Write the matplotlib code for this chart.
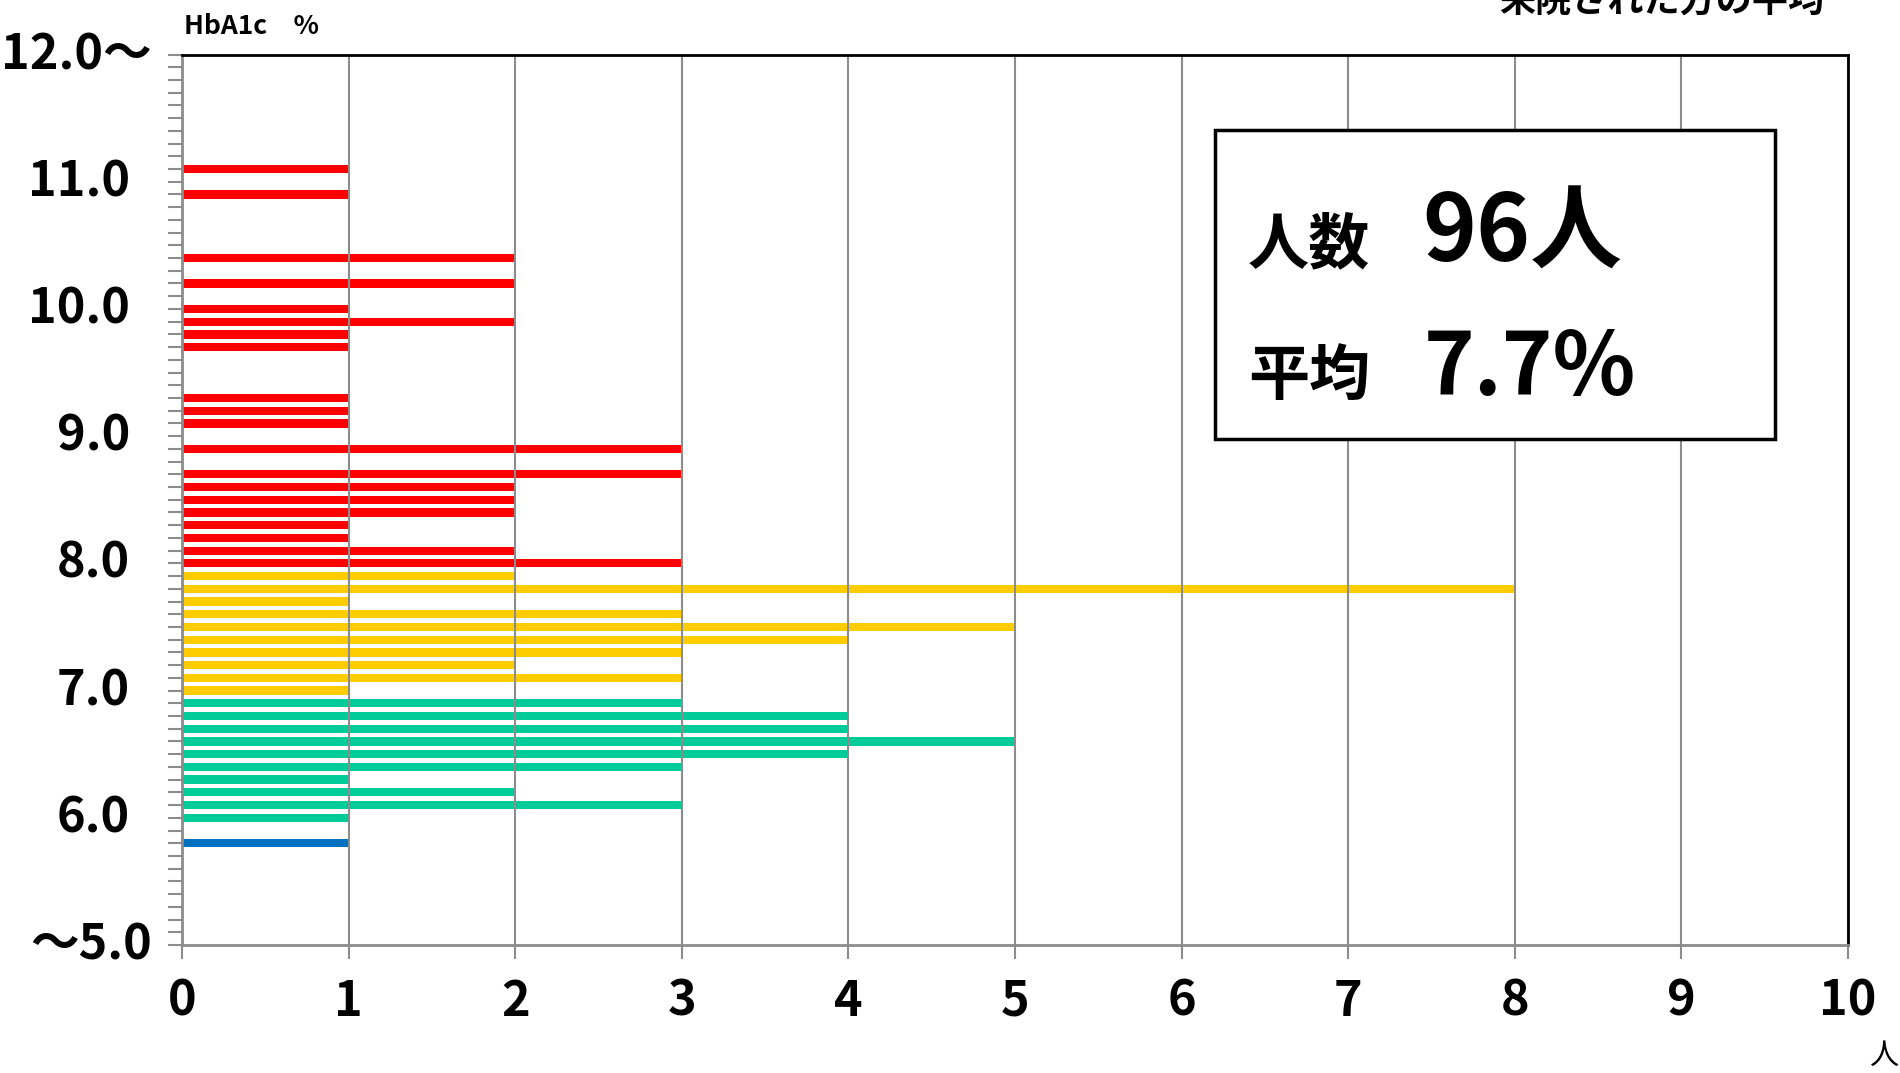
import matplotlib
matplotlib.use("Agg")
import matplotlib.pyplot as plt
from matplotlib.ticker import MultipleLocator, NullFormatter
from matplotlib.patches import Rectangle

plt.rcParams['font.family'] = ['Noto Sans CJK JP', 'DejaVu Sans']

# -----------------------------
# Data: HbA1c value (%) and number of patients
hba1c = [5.8,
         6.0, 6.1, 6.2, 6.3, 6.4, 6.5, 6.6, 6.7, 6.8, 6.9,
         7.0, 7.1, 7.2, 7.3, 7.4, 7.5, 7.6, 7.7, 7.8, 7.9,
         8.0, 8.1, 8.2, 8.3, 8.4, 8.5, 8.6, 8.7, 8.9,
         9.1, 9.2, 9.3, 9.7, 9.8, 9.9, 10.0, 10.2, 10.4, 10.9, 11.1]
counts = [1,
          1, 3, 2, 1, 3, 4, 5, 4, 4, 3,
          1, 3, 2, 3, 4, 5, 3, 1, 8, 2,
          3, 2, 1, 1, 2, 2, 2, 3, 3,
          1, 1, 1, 1, 1, 2, 1, 2, 2, 1, 1]

y_label_pos = [5, 6, 7, 8, 9, 10, 11, 12]
y_labels = ["〜5.0", "6.0", "7.0", "8.0", "9.0", "10.0", "11.0", "12.0〜"]
x_ticks = list(range(0, 11))

n_people = "96人"
mean_val = "7.7%"


def bar_color(v):
    if v < 6.0:
        return '#0070C0'
    if v < 7.0:
        return '#00CC99'
    if v < 8.0:
        return '#FFCC00'
    return '#FF0000'


W, H = 1900, 1073
fig = plt.figure(figsize=(W / 100, H / 100), dpi=100)

# axes placed by pixel box
left, right, top, bottom = 182, 1848, 54.5, 945
ax = fig.add_axes([left / W, 1 - bottom / H, (right - left) / W, (bottom - top) / H])

ax.barh(hba1c, counts, height=0.065, color=[bar_color(v) for v in hba1c])

ax.set_xlim(0, 10)
ax.set_ylim(5, 12)
ax.set_xticks(x_ticks)
ax.set_xticklabels([str(t) for t in x_ticks], fontsize=35, fontweight='bold')
ax.yaxis.set_major_locator(MultipleLocator(0.1))
ax.yaxis.set_major_formatter(NullFormatter())

grey = '#8c8c8c'
ax.xaxis.grid(True, color=grey, lw=1.5)
ax.tick_params(axis='x', direction='out', length=10, width=1.5, color=grey, pad=13)
ax.tick_params(axis='y', direction='out', length=10, width=1.5, color=grey)

for s in ['left', 'bottom']:
    ax.spines[s].set_color(grey)
    ax.spines[s].set_linewidth(2)
for s in ['top', 'right']:
    ax.spines[s].set_color('black')
    ax.spines[s].set_linewidth(2)


def fx(px):
    return px / W


def fy(py):
    return 1 - py / H


# y labels drawn by hand (the ones with 〜 stick out to the right)
for pos, lab in zip(y_label_pos, y_labels):
    xr = 152 if '〜' in lab else 130
    yy = ax.transData.transform((0, pos))[1] / H
    fig.text(fx(xr), yy, lab, ha='right', va='center', fontsize=35, fontweight='bold')

# axis titles
fig.text(fx(184), fy(27), "HbA1c　%", ha='left', va='center', fontsize=19, fontweight='bold')
fig.text(fx(1884), fy(1056), "人", ha='center', va='center', fontsize=21)
fig.text(fx(1662), fy(13), "来院された方の平均", ha='center', va='baseline',
         fontsize=26, fontweight='bold')

# summary box
box = Rectangle((fx(1215), fy(439)), (1775 - 1215) / W, (439 - 130) / H,
                transform=fig.transFigure, facecolor='white', edgecolor='black', lw=2.5)
fig.patches.append(box)
fig.text(fx(1248), fy(263), "人数", ha='left', va='baseline', fontsize=44, fontweight='bold')
fig.text(fx(1422), fy(262), n_people, ha='left', va='baseline', fontsize=66, fontweight='bold')
fig.text(fx(1248), fy(395), "平均", ha='left', va='baseline', fontsize=44, fontweight='bold')
fig.text(fx(1424), fy(395), mean_val, ha='left', va='baseline', fontsize=62, fontweight='bold')

fig.savefig("out.png", dpi=100)
